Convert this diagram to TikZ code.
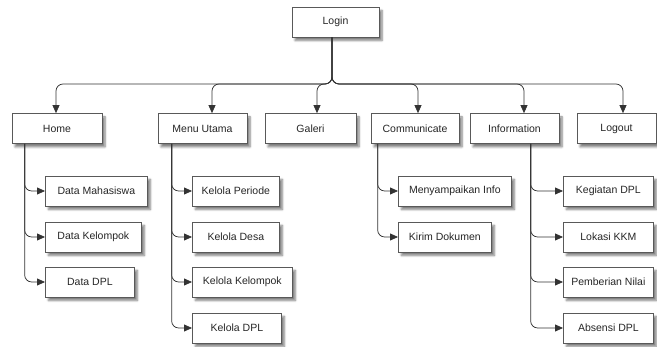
\documentclass[tikz,border=0pt]{standalone}
\usepackage{fontspec}
\setmainfont{Liberation Sans}
\usepackage{tikz}
\usetikzlibrary{arrows.meta,shadows.blur}

\begin{document}
\begin{tikzpicture}[x=1pt,y=-1pt,>={Triangle[length=8pt,width=7pt]},
        box/.style={draw=black!65,fill=white,line width=0.7pt,minimum height=30pt,
          inner sep=0pt,text=black!85,font=\fontsize{10.5pt}{12pt}\selectfont,
          blur shadow={shadow xshift=3pt,shadow yshift=-3.5pt,shadow blur steps=6,shadow opacity=50}},
        link/.style={->,draw=black!80,line width=0.75pt,rounded corners=7pt}]

  \useasboundingbox (0,0) rectangle (657,347);

  \node[box,minimum width=87pt] (login) at (335.5,22) {Login};

  \node[box,minimum width=90pt] (home)   at (57,128.5)  {Home};
  \node[box,minimum width=89pt] (menu)   at (202.5,128.5) {Menu Utama};
  \node[box,minimum width=91pt] (galeri) at (310.5,128.5) {Galeri};
  \node[box,minimum width=88pt] (comm)   at (415,128.5) {Communicate};
  \node[box,minimum width=89pt] (info)   at (514.5,128.5) {Information};
  \node[box,minimum width=79pt] (logout) at (616.5,128.5) {Logout};

  \node[box,anchor=west,minimum width=102pt] (dmhs) at (45,191) {Data Mahasiswa};
  \node[box,anchor=west,minimum width=96pt]  (dkel) at (45,237) {Data Kelompok};
  \node[box,anchor=west,minimum width=89pt]  (ddpl) at (45,282) {Data DPL};

  \node[box,anchor=west,minimum width=87pt]  (kper) at (192,191) {Kelola Periode};
  \node[box,anchor=west,minimum width=87pt]  (kdes) at (192,237) {Kelola Desa};
  \node[box,anchor=west,minimum width=100pt] (kkel) at (192,282) {Kelola Kelompok};
  \node[box,anchor=west,minimum width=89pt]  (kdpl) at (192,328) {Kelola DPL};

  \node[box,anchor=west,minimum width=113pt] (info1) at (398,191) {Menyampaikan Info};
  \node[box,anchor=west,minimum width=93pt]  (kdok)  at (398,237) {Kirim Dokumen};

  \node[box,anchor=west,minimum width=90pt] (kgt) at (563,191) {Kegiatan DPL};
  \node[box,anchor=west,minimum width=90pt] (lok) at (563,237) {Lokasi KKM};
  \node[box,anchor=west,minimum width=90pt] (pni) at (563,282) {Pemberian Nilai};
  \node[box,anchor=west,minimum width=90pt] (abs) at (563,328) {Absensi DPL};

  \coordinate (bus) at (332,84);

  % menu bar
  \draw[link] (login.south -| bus) -- (bus) -| ([xshift=-1pt]home.north);
  \draw[link] (login.south -| bus) -- (bus) -| ([xshift=9.5pt]menu.north);
  \draw[link] (login.south -| bus) -- (bus) -| ([xshift=6.5pt]galeri.north);
  \draw[link] (login.south -| bus) -- (bus) -| ([xshift=3pt]comm.north);
  \draw[link] (login.south -| bus) -- (bus) -| ([xshift=9.5pt]info.north);
  \draw[link] (login.south -| bus) -- (bus) -| ([xshift=6.5pt]logout.north);

  % sub menus
  \foreach \s in {dmhs,dkel,ddpl}
    \draw[link] ([xshift=13pt]home.south west) |- (\s.west);
  \foreach \s in {kper,kdes,kkel,kdpl}
    \draw[link] ([xshift=14pt]menu.south west) |- (\s.west);
  \foreach \s in {info1,kdok}
    \draw[link] ([xshift=7pt]comm.south west) |- (\s.west);
  \foreach \s in {kgt,lok,pni,abs}
    \draw[link] ([xshift=61pt]info.south west) |- (\s.west);

\end{tikzpicture}
\end{document}
